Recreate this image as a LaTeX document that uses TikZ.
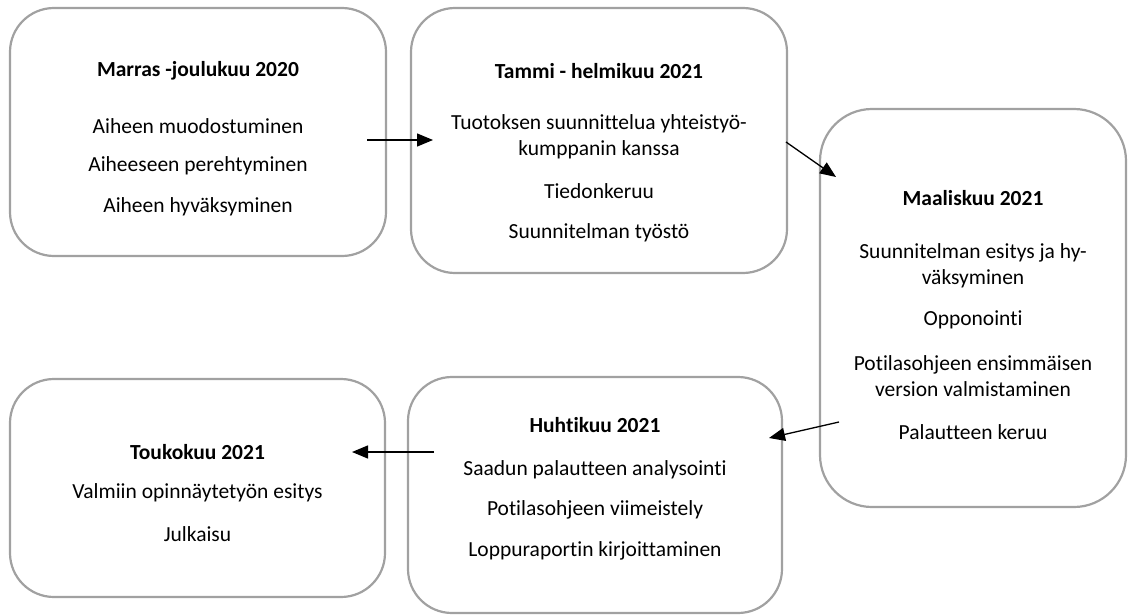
\documentclass[tikz,border=0pt]{standalone}
\usepackage{fontspec}
\setmainfont{Carlito}[Ligatures=NoCommon]
\usetikzlibrary{arrows.meta}
\begin{document}
\begin{tikzpicture}[x=1pt,y=-1pt,
  box/.style={draw=black!37, line width=2.2pt, rounded corners=44pt, inner sep=0pt},
  txt/.style={font=\fontsize{21.5}{26}\selectfont, align=center, inner sep=0pt},
  head/.style={txt, font=\fontsize{21.5}{26}\selectfont\bfseries},
  conn/.style={line width=1.3pt, -{Triangle[length=16pt,width=13pt]}}]
\useasboundingbox (0,0) rectangle (1129,615);
% boxes
\node[box, minimum width=376pt, minimum height=248pt] (b1) at (198,132) {};
\node[box, minimum width=376pt, minimum height=265pt] (b2) at (599,140.5) {};
\node[box, minimum width=306pt, minimum height=398pt, rounded corners=52pt] (b3) at (973,308) {};
\node[box, minimum width=374pt, minimum height=236pt] (b4) at (595,495) {};
\node[box, minimum width=375pt, minimum height=218pt] (b5) at (197.5,488) {};
% box 1
\node[head] (h1) at (198,71) {Marras -joulukuu 2020};
\node[txt] (t11) at (198,126) {Aiheen muodostuminen};
\node[txt] (t12) at (198,166) {Aiheeseen perehtyminen};
\node[txt] (t13) at (198,207) {Aiheen hyväksyminen};
% box 2
\node[head] (h2) at (599,71) {Tammi - helmikuu 2021};
\node[txt] (t21) at (599,137) {Tuotoksen suunnittelua yhteistyö-\\kumppanin kanssa};
\node[txt] (t22) at (599,191) {Tiedonkeruu};
\node[txt] (t23) at (599,233) {Suunnitelman työstö};
% box 3
\node[head] (h3) at (973,198) {Maaliskuu 2021};
\node[txt] (t31) at (973,266) {Suunnitelman esitys ja hy-\\väksyminen};
\node[txt] (t32) at (973,320) {Opponointi};
\node[txt] (t33) at (973,376) {Potilasohjeen ensimmäisen\\version valmistaminen};
\node[txt] (t34) at (973,432) {Palautteen keruu};
% box 4
\node[head] (h4) at (595,425) {Huhtikuu 2021};
\node[txt] (t41) at (595,470) {Saadun palautteen analysointi};
\node[txt] (t42) at (595,510) {Potilasohjeen viimeistely};
\node[txt] (t43) at (595,551) {Loppuraportin kirjoittaminen};
% box 5
\node[head] (h5) at (197.5,452) {Toukokuu 2021};
\node[txt] (t51) at (197.5,493) {Valmiin opinnäytetyön esitys};
\node[txt] (t52) at (197.5,534) {Julkaisu};
% connectors
\coordinate (a1s) at (367,140); \coordinate (a1e) at (433,140);
\coordinate (a2s) at (786,142); \coordinate (a2e) at (836,177);
\coordinate (a3s) at (839,422); \coordinate (a3e) at (769,438);
\coordinate (a4s) at (434,452); \coordinate (a4e) at (352,452);
\draw[conn] (a1s) -- (a1e);
\draw[conn] (a2s) -- (a2e);
\draw[conn] (a3s) -- (a3e);
\draw[conn] (a4s) -- (a4e);
\end{tikzpicture}
\end{document}
